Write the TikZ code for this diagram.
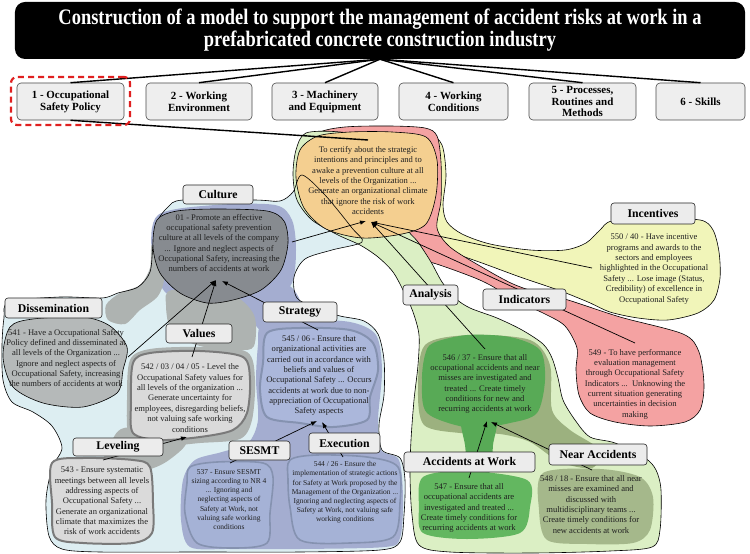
\documentclass[tikz,border=0pt]{standalone}
\usepackage{fontspec}
\setmainfont{Liberation Serif}
\usetikzlibrary{arrows.meta}
\definecolor{lbc}{HTML}{DDEEF2}
\definecolor{yelc}{HTML}{F1F5B9}
\definecolor{redc}{HTML}{F4A2A2}
\definecolor{lgc}{HTML}{DBEFC4}
\definecolor{orc}{HTML}{F4CF90}
\definecolor{purc}{HTML}{A4ADD0}
\definecolor{strc}{HTML}{ABB7DB}
\definecolor{bluec}{HTML}{A5B2D6}
\definecolor{bluebd}{HTML}{8592B0}
\definecolor{greyc}{HTML}{AEB3B1}
\definecolor{culc}{HTML}{878B90}
\definecolor{disc}{HTML}{B5B9B9}
\definecolor{valc}{HTML}{DADADA}
\definecolor{valbd}{HTML}{7A7A7A}
\definecolor{g546}{HTML}{58AA56}
\definecolor{g547}{HTML}{63B760}
\definecolor{olivc}{HTML}{9CB17F}
\definecolor{g548}{HTML}{A5B88B}
\definecolor{lblc}{HTML}{ECECEC}
\definecolor{topc}{HTML}{EEEEEE}
\definecolor{txtc}{HTML}{202020}
\definecolor{dashred}{HTML}{E02020}
\newcommand\lbshape[1]{\path[#1] plot[smooth cycle] coordinates {(183,200) (255,200) (280,201) (293,192) (302,175) (325,195) (352,228) (362,242) (332,250) (305,259) (294,277) (297,298) (318,309) (340,316) (364,321) (378,334) (384,360) (384,395) (379,425) (382,450) (400,458) (405,480) (404,515) (400,542) (380,550) (300,552) (200,552) (100,552) (62,549) (49,536) (46,500) (52,468) (62,448) (52,426) (33,412) (12,402) (3,380) (2,345) (4,318) (9,302) (60,297) (102,298) (118,293) (138,287) (150,272) (153,245) (157,222) (168,207)};}
\begin{document}
\begin{tikzpicture}[x=1bp,y=-1bp,
 lbl/.style={draw=black!85, line width=0.6bp, fill=lblc, rounded corners=3bp, font=\fontsize{11.8}{13}\selectfont\bfseries, inner sep=0pt, minimum height=19bp},
 topbox/.style={draw=black!70, line width=0.6bp, fill=topc, rounded corners=4bp, font=\fontsize{11}{12}\selectfont\bfseries, align=center, inner sep=0pt, minimum height=37bp},
 txt/.style={align=center, inner sep=0pt, font=\fontsize{8.6}{10.4}\selectfont, text=txtc},
 stxt/.style={align=center, inner sep=0pt, font=\fontsize{7.5}{9.2}\selectfont, text=txtc},
 hull/.style={draw=black, line width=0.6bp},
 arr/.style={-{Latex[length=6bp,width=4.5bp]}, line width=0.7bp},
 tline/.style={line width=1.4bp}]
\useasboundingbox (0,0) rectangle (750,554);
\fill[white] (0,0) rectangle (750,554);

% ---------- hulls ----------
\lbshape{fill=lbc}
% yellow (Incentives)
\path[hull, fill=yelc] plot[smooth cycle] coordinates {(395,131) (428,133) (442,145) (446,175) (443,205) (447,222) (462,234) (490,244) (530,250) (565,250) (586,243) (600,230) (612,221) (655,219) (700,220) (713,230) (719,252) (720,278) (714,300) (698,313) (668,320) (638,318) (610,312) (588,302) (558,290) (520,277) (482,263) (448,251) (425,241) (400,225) (385,180) (385,145)};
% red (Indicators)
\path[hull, fill=redc] plot[smooth cycle] coordinates {(318,133) (345,127) (390,126) (425,128) (437,136) (441,162) (441,200) (437,228) (450,247) (480,266) (513,284) (545,295) (568,300) (620,317) (683,334) (699,352) (704,385) (700,410) (685,422) (650,426) (615,422) (590,413) (579,395) (576,370) (577,348) (565,326) (545,314) (515,300) (490,285) (470,276) (430,262) (380,250) (345,236) (320,222) (303,205) (297,180) (300,152)};
% green (Analysis)
\path[hull, fill=lgc] plot[smooth cycle] coordinates {(306,133) (296,150) (293,175) (297,200) (312,220) (338,235) (360,245) (378,257) (393,272) (404,292) (413,312) (419,335) (418,365) (414,400) (411,440) (410,475) (412,515) (419,545) (450,552) (533,553) (610,551) (652,547) (660,530) (661,490) (656,470) (645,458) (615,443) (590,437) (575,420) (563,400) (558,378) (552,358) (543,344) (522,330) (497,318) (470,308) (455,298) (442,282) (431,262) (418,242) (405,225) (395,180) (370,140) (340,132)};
% orange blob
\path[hull, fill=orc] plot[smooth cycle] coordinates {(300,150) (318,136) (350,132) (392,132) (426,137) (437,160) (436,195) (426,224) (402,234) (362,238) (326,229) (304,208) (296,178)};

% purple sub-hull (Culture / Strategy / SESMT / Execution)
\fill[purc] plot[smooth cycle] coordinates {(158,215) (215,205) (275,205) (292,220) (296,250) (292,283) (272,300) (240,306) (200,306) (165,292) (152,255)};
\fill[purc] plot[smooth cycle] coordinates {(235,296) (285,284) (302,306) (300,332) (268,336) (250,318)};
\fill[purc] plot[smooth cycle] coordinates {(262,325) (300,320) (350,322) (376,335) (382,370) (378,420) (381,450) (399,460) (403,500) (400,538) (385,547) (300,549) (230,549) (190,547) (181,520) (183,480) (195,460) (222,452) (248,443) (258,420) (256,380) (258,345)};
% grey sub-hull (Culture / Dissemination / Values / Leveling)
\fill[greyc] plot[smooth cycle] coordinates {(152,245) (164,275) (158,296) (140,310) (125,324) (108,320) (106,305) (120,293) (140,285) (150,268)};
\fill[greyc] plot[smooth cycle] coordinates {(172,290) (230,294) (254,315) (254,346) (238,350) (200,346) (172,332) (166,305)};
\fill[greyc] plot[smooth cycle] coordinates {(130,360) (150,349) (200,347) (247,352) (255,380) (252,420) (240,439) (200,443) (160,446) (130,439) (127,400)};
\fill[greyc] plot[smooth cycle] coordinates {(124,428) (176,430) (186,444) (166,462) (145,470) (118,466) (104,460) (110,445)};
\lbshape{draw=black, line width=0.6bp}

% green inner regions
\fill[olivc] plot[smooth cycle] coordinates {(425,345) (470,335) (530,340) (550,365) (552,410) (570,430) (600,450) (592,468) (560,462) (530,442) (500,434) (460,433) (424,425) (418,390)};
\fill[g546] plot[smooth cycle] coordinates {(462,415) (496,415) (493,445) (490,472) (470,474) (465,445)};

% ---------- blobs ----------
\path[draw=black, line width=0.6bp, fill=culc] plot[smooth cycle] coordinates {(157,220) (177,211) (217,209) (267,211) (284,221) (288,243) (281,270) (261,290) (233,300) (207,303) (180,293) (160,273) (153,247)};
\path[draw=black, line width=0.6bp, fill=disc] plot[smooth cycle] coordinates {(10,327) (33,319) (83,317) (110,326) (127,347) (123,370) (117,393) (83,407) (43,403) (13,387) (3,357)};
\path[draw=valbd, line width=2bp, fill=valc] plot[smooth cycle] coordinates {(133,363) (150,353) (200,351) (243,357) (250,380) (247,413) (233,430) (200,437) (160,440) (133,433) (131,403)};
\path[draw=bluebd, line width=2bp, fill=strc] plot[smooth cycle] coordinates {(267,333) (300,328) (350,330) (373,343) (378,370) (370,397) (367,420) (333,427) (300,423) (267,417) (260,390) (263,363)};
\path[draw=valbd, line width=2bp, fill=valc] plot[smooth cycle] coordinates {(52,463) (83,458) (133,460) (150,467) (153,503) (152,533) (133,543) (83,543) (55,537) (52,503)};
\path[draw=bluebd, line width=1.6bp, fill=bluec] plot[smooth cycle] coordinates {(190,467) (217,462) (263,463) (273,477) (270,513) (267,543) (233,548) (197,543) (185,513) (187,483)};
\path[draw=bluebd, line width=1.6bp, fill=bluec] plot[smooth cycle] coordinates {(290,460) (317,455) (367,457) (398,467) (400,503) (393,537) (350,543) (300,540) (290,507) (288,480)};
\fill[g546] plot[smooth cycle] coordinates {(425,355) (433,343) (467,335) (510,337) (540,350) (545,380) (537,413) (510,423) (470,428) (427,413) (422,380)};
\fill[g547] plot[smooth cycle] coordinates {(423,477) (467,471) (527,480) (530,507) (520,533) (467,539) (423,533) (419,507)};
\fill[g548] plot[smooth cycle] coordinates {(543,473) (600,469) (640,477) (653,497) (650,530) (633,543) (587,544) (547,540) (539,510)};

% ---------- blob texts ----------
\node[txt] (torg) at (368,180.5) {To certify about the strategic\\intentions and principles and to\\awake a prevention culture at all\\levels of the Organization ...\\Generate an organizational climate\\that ignore the risk of work\\accidents};
\node[txt] (tcul) at (219,243) {01 - Promote an effective\\occupational safety prevention\\culture at all levels of the company\\... Ignore and neglect aspects of\\Occupational Safety, increasing the\\numbers of accidents at work};
\node[txt] (tdis) at (66,358) {541 - Have a Occupational Safety\\Policy defined and disseminated at\\all levels of the Organization ...\\Ignore and neglect aspects of\\Occupational Safety, increasing\\the numbers of accidents at work};
\node[txt] (tval) at (190,398) {542 / 03 / 04 / 05 - Level the\\Occupational Safety values for\\all levels of the organization ...\\Generate uncertainty for\\employees, disregarding beliefs,\\not valuing safe working\\conditions};
\node[txt] (tstr) at (319,375.5) {545 / 06 - Ensure that\\organizational activities are\\carried out in accordance with\\beliefs and values of\\Occupational Safety ... Occurs\\accidents at work due to non-\\appreciation of Occupational\\Safety aspects};
\node[txt] (tlev) at (102,501) {543 - Ensure systematic\\meetings between all levels\\addressing aspects of\\Occupational Safety ...\\Generate an organizational\\climate that maximizes the\\risk of work accidents};
\node[stxt] (tses) at (229,499.5) {537 - Ensure SESMT\\sizing according to NR 4\\... Ignoring and\\neglecting aspects of\\Safety at Work, not\\valuing safe working\\conditions};
\node[stxt] (texe) at (345,492.5) {544 / 26 - Ensure the\\implementation of strategic actions\\for Safety at Work proposed by the\\Management of the Organization ...\\Ignoring and neglecting aspects of\\Safety at Work, not valuing safe\\working conditions};
\node[txt] (t546) at (485,384) {546 / 37 - Ensure that all\\occupational accidents and near\\misses are investigated and\\treated ... Create timely\\conditions for new and\\recurring accidents at work};
\node[txt] (t547) at (469,508) {547 - Ensure that all\\occupational accidents are\\investigated and treated ...\\Create timely conditions for\\recurring accidents at work};
\node[txt] (t548) at (591,504.5) {548 / 18 - Ensure that all near\\misses are examined and\\discussed with\\multidisciplinary teams ...\\Create timely conditions for\\new accidents at work};
\node[txt] (t549) at (635,384) {549 - To have performance\\evaluation management\\through Occupational Safety\\Indicators ...\ \ Unknowing the\\current situation generating\\uncertainties in decision\\making};
\node[txt] (t550) at (654,269) {550 / 40 - Have incentive\\programs and awards to the\\sectors and employees\\highlighted in the Occupational\\Safety ... Lose image (Status,\\Credibility) of excellence in\\Occupational Safety};

% ---------- arrow end points ----------
\coordinate (oin1) at (366,221);
\coordinate (oin2) at (371,222);
\coordinate (culOut) at (292,242);
\coordinate (anaOut) at (485,349);
\coordinate (indOut) at (635,343);
\coordinate (incOut) at (592,268);
\coordinate (culIn1) at (216,280);
\coordinate (culIn2) at (222,281);
\coordinate (disOut) at (128,357);
\coordinate (valOut) at (192,357);
\coordinate (strOut) at (318,330);
\coordinate (strIn1) at (317,421);
\coordinate (strIn2) at (322,422);
\coordinate (sesOut) at (230,463);
\coordinate (exeOut) at (343,457);
\coordinate (valIn) at (187,437);
\coordinate (levOut) at (103,460);
\coordinate (a546In1) at (487,421);
\coordinate (a546In2) at (491,422);
\coordinate (accOut) at (469,478);
\coordinate (nearOut) at (592,470);
\coordinate (orTop) at (368,140);

% ---------- arrows ----------
\draw[arr] (culOut) -- (oin1);
\draw[arr] (anaOut) -- (oin2);
\draw[arr] (indOut) -- (oin2);
\draw[arr] (incOut) -- (oin2);
\draw[arr] (disOut) -- (culIn1);
\draw[arr] (valOut) -- (culIn1);
\draw[arr] (strOut) -- (culIn2);
\draw[arr] (sesOut) -- (strIn1);
\draw[arr] (exeOut) -- (strIn2);
\draw[arr] (levOut) -- (valIn);
\draw[arr] (accOut) -- (a546In1);
\draw[arr] (nearOut) -- (a546In2);

% ---------- title and top boxes ----------
\node[fill=black, rounded corners=10bp, minimum width=730bp, minimum height=57bp, inner sep=0pt, text=white] (title) at (380,30.5)
 {\scalebox{1}[1.2]{\fontsize{18.5}{18}\selectfont\bfseries\begin{tabular}{@{}c@{}}Construction of a model to support the management of accident risks at work in a\\prefabricated concrete construction industry\end{tabular}}};
\node[topbox, minimum width=107bp] (b1) at (70.5,101.5) {1 - Occupational\\Safety Policy};
\node[topbox, minimum width=106bp] (b2) at (199,101.5) {2 - Working\\Environment};
\node[topbox, minimum width=106bp] (b3) at (325,101.5) {3 - Machinery\\and Equipment};
\node[topbox, minimum width=109bp] (b4) at (453.5,101.5) {4 - Working\\Conditions};
\node[topbox, minimum width=107bp] (b5) at (582.5,101.5) {5 - Processes,\\Routines and\\Methods};
\node[topbox, minimum width=89bp] (b6) at (700.5,101.5) {6 - Skills};
\draw[tline] (title.south) -- (b1.north);
\draw[tline] (title.south) -- (b2.north);
\draw[tline] (title.south) -- (b3.north);
\draw[tline] (title.south) -- (b4.north);
\draw[tline] (title.south) -- (b5.north);
\draw[tline] (title.south) -- (b6.north);
\draw[tline] (b1.south) -- (orTop);
\node[draw=dashred, line width=2.2bp, dash pattern=on 6bp off 4bp, rounded corners=6bp, minimum width=119bp, minimum height=48bp, inner sep=0pt] (b1sel) at (70.5,101) {};

% ---------- labels ----------
\node[lbl, minimum width=70bp] (lcul) at (218,194.5) {Culture};
\node[lbl, minimum width=97bp, minimum height=20bp] (ldis) at (53.5,308) {Dissemination};
\node[lbl, minimum width=66bp] (lval) at (199,333.5) {Values};
\node[lbl, minimum width=74bp, minimum height=20bp] (lstr) at (300,312) {Strategy};
\node[lbl, minimum width=90bp, minimum height=18bp] (llev) at (118,447) {Leveling};
\node[lbl, minimum width=61bp] (lses) at (259.5,450.5) {SESMT};
\node[lbl, minimum width=71bp, minimum height=20bp] (lexe) at (344.5,443) {Execution};
\node[lbl, minimum width=55bp, minimum height=20bp] (lana) at (430.5,295) {Analysis};
\node[lbl, minimum width=83bp, minimum height=21bp] (lind) at (524.5,299.5) {Indicators};
\node[lbl, minimum width=84bp, minimum height=21bp] (linc) at (653,213.5) {Incentives};
\node[lbl, minimum width=131bp, minimum height=20bp] (lacc) at (469.5,462) {Accidents at Work};
\node[lbl, minimum width=98bp, minimum height=21bp] (lnear) at (598,454.5) {Near Accidents};
\end{tikzpicture}
\end{document}
